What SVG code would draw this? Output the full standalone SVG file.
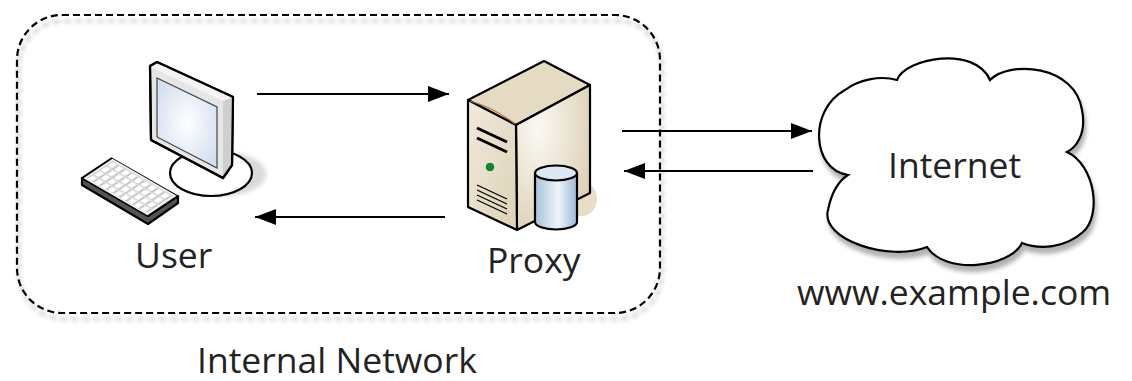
<svg xmlns="http://www.w3.org/2000/svg" width="1132" height="381" viewBox="0 0 1132 381">
  <style>
    .lbl { font-family: "Open Sans", "Liberation Sans", sans-serif; font-size: 35.5px; fill: #232323; }
    .edge { stroke: #000; stroke-width: 2; fill: none; marker-end: url(#head); }
    .ol { stroke: #000; stroke-width: 2.2; stroke-linejoin: round; }
  </style>
  <defs>
    <marker id="head" markerUnits="userSpaceOnUse" markerWidth="22" markerHeight="18" refX="21" refY="8" orient="auto">
      <path d="M0,0 L21,8 L0,16 Z" fill="#000"/>
    </marker>
    <filter id="shadow" x="-10%" y="-10%" width="120%" height="130%">
      <feGaussianBlur in="SourceAlpha" stdDeviation="2"/>
      <feOffset dx="2" dy="6" result="b"/>
      <feFlood flood-color="#000" flood-opacity="0.3"/>
      <feComposite in2="b" operator="in" result="s"/>
      <feMerge><feMergeNode in="s"/><feMergeNode in="SourceGraphic"/></feMerge>
    </filter>
    <filter id="soft"><feGaussianBlur stdDeviation="2"/></filter>
    <radialGradient id="screen" cx="0.5" cy="0.5" r="0.6">
      <stop offset="0" stop-color="#ffffff"/>
      <stop offset="1" stop-color="#d3dff0"/>
    </radialGradient>
    <linearGradient id="front" x1="0" y1="0" x2="1" y2="1">
      <stop offset="0" stop-color="#f1ebdc"/>
      <stop offset="1" stop-color="#ddd1b6"/>
    </linearGradient>
    <radialGradient id="side" cx="0.3" cy="0.3" r="0.9">
      <stop offset="0" stop-color="#fbf9f4"/>
      <stop offset="1" stop-color="#d8cbad"/>
    </radialGradient>
    <linearGradient id="can" x1="0" y1="0" x2="1" y2="0">
      <stop offset="0" stop-color="#a8c2db"/>
      <stop offset="0.55" stop-color="#eef4fa"/>
      <stop offset="1" stop-color="#9cb8d3"/>
    </linearGradient>
    <pattern id="keys" patternUnits="userSpaceOnUse" width="10" height="22" x="4" y="4">
      <rect x="1" y="1.5" width="8" height="18" fill="#fff" stroke="#9a9a9a" stroke-width="0.8"/>
    </pattern>
  </defs>

  <!-- internal network boundary -->
  <g id="internal-network">
    <rect x="17" y="15" width="643" height="298" rx="45" fill="none" stroke="#000" stroke-width="2.2" stroke-dasharray="7 4" filter="url(#shadow)"/>
    <text class="lbl" x="197" y="373">Internal Network</text>
  </g>

  <!-- user workstation -->
  <g id="user">
    <ellipse cx="224" cy="174" rx="42" ry="22" fill="#d9d9d9" filter="url(#soft)"/>
    <ellipse cx="211" cy="173" rx="41" ry="23" fill="#fff" class="ol"/>
    <polygon points="150,66 157,62 233,97 232,165 223,178 151,140" fill="#e6e6e6" class="ol"/>
    <polygon points="223,101 233,97 232,165 223,177" fill="#cfcfcf"/>
    <polygon points="151,67 157,63 233,97 223,101" fill="#f4f4f4"/>
    <polygon points="150,66 157,62 233,97 232,165 223,178 151,140" fill="none" class="ol"/>
    <polygon points="157,78 217,107 217,168 157,137" fill="url(#screen)" stroke="#444" stroke-width="1.2"/>
    <!-- keyboard -->
    <polygon points="82,178 148,216 178,196 178,203 148,224 82,185" fill="#555" class="ol"/>
    <g transform="matrix(0.66,0.38,0.30,-0.20,82,178)">
      <rect x="0" y="0" width="100" height="100" fill="#f2f2f2" stroke="#000" stroke-width="3"/>
      <rect x="4" y="6" width="92" height="88" fill="url(#keys)"/>
    </g>
    <text class="lbl" x="135" y="268">User</text>
  </g>

  <!-- proxy server -->
  <g id="proxy">
    <ellipse cx="582" cy="199" rx="15" ry="17" fill="#e8dec6"/>
    <polygon points="468,100 544,61 590,85 516,125" fill="#e5dbc3" class="ol"/>
    <polygon points="516,125 590,85 590,193 517,230" fill="url(#side)" class="ol"/>
    <polygon points="468,100 516,125 517,230 468,207" fill="url(#front)" class="ol"/>
    <path d="M470,101 Q495,108 515,124" fill="none" stroke="#b0783a" stroke-width="1.2"/>
    <line x1="477" y1="128" x2="507" y2="142" stroke="#000" stroke-width="3"/>
    <line x1="477" y1="138" x2="507" y2="152" stroke="#000" stroke-width="3"/>
    <circle cx="490" cy="167" r="3.8" fill="#118a1d" stroke="#063" stroke-width="0.8"/>
    <g stroke="#000" stroke-width="1.3">
      <line x1="477" y1="185" x2="507" y2="199"/>
      <line x1="477" y1="190" x2="507" y2="204"/>
      <line x1="477" y1="195" x2="507" y2="209"/>
      <line x1="477" y1="200" x2="507" y2="214"/>
    </g>
    <path d="M535,173 L535,222 A21,7.5 0 0 0 577,222 L577,173 Z" fill="url(#can)" class="ol"/>
    <ellipse cx="556" cy="173" rx="21" ry="7.5" fill="#dbe8f4" class="ol"/>
    <text class="lbl" x="487" y="273">Proxy</text>
  </g>

  <!-- internet cloud -->
  <g id="internet">
    <path d="M848,175 C812,170 808,110 845,90 C858,80 880,75 897,80 C905,58 975,45 990,80 C1010,60 1075,65 1082,110 C1087,135 1075,148 1067,152 C1095,165 1102,215 1083,232 C1065,248 1040,250 1022,243 C1010,268 945,275 927,247 C890,262 820,240 828,210 C832,190 840,180 848,175 Z" fill="#fff" stroke="#000" stroke-width="2.2" filter="url(#shadow)"/>
    <text class="lbl" x="888" y="178">Internet</text>
    <text class="lbl" x="797" y="305">www.example.com</text>
  </g>

  <!-- request / response flows -->
  <g id="connectors">
    <line class="edge" x1="257" y1="94" x2="449" y2="94"/>
    <line class="edge" x1="445" y1="217" x2="255" y2="217"/>
    <line class="edge" x1="622" y1="131" x2="812" y2="131"/>
    <line class="edge" x1="813" y1="171" x2="624" y2="171"/>
  </g>
</svg>
